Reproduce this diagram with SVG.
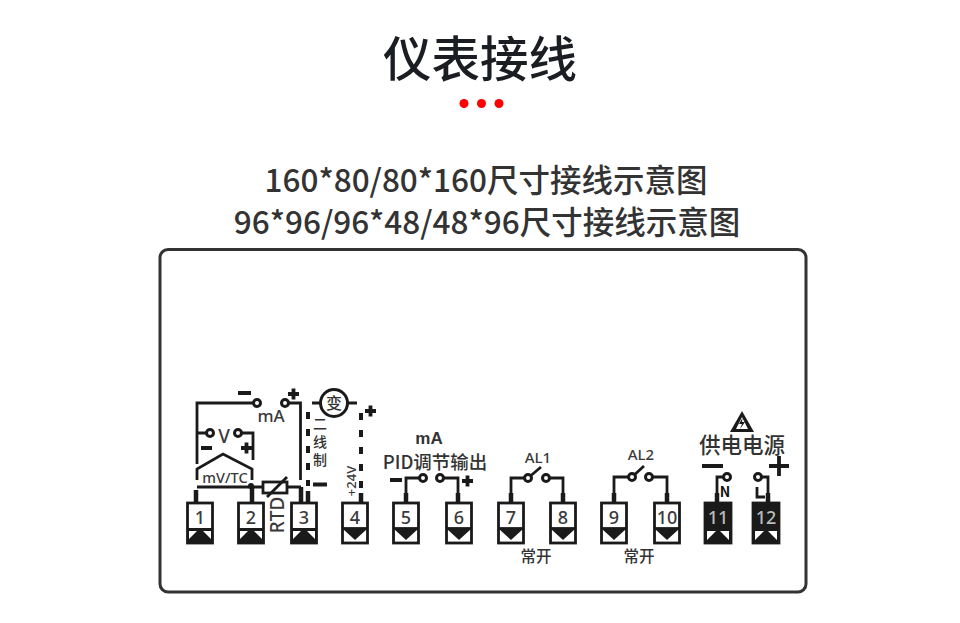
<svg xmlns="http://www.w3.org/2000/svg" width="960" height="623" viewBox="0 0 960 623">
<style>
text{font-family:"Noto Sans CJK SC","Noto Sans",sans-serif;fill:#333;text-anchor:middle}
.t{font-size:48.500px;font-weight:500;fill:#1a1e23}
.s{font-size:31.500px;font-weight:500;fill:#333}
.l{font-size:15.500px;font-weight:500}
.n{font-size:18px;font-family:"Noto Sans",sans-serif;font-weight:500;fill:#3a3a3a}
.w{fill:none;stroke:#1a1a1a;stroke-width:2.800}
.th{fill:none;stroke:#1a1a1a;stroke-width:4.500}
.d{fill:none;stroke:#1a1a1a;stroke-width:4;stroke-dasharray:7 10}
.c{fill:#fff;stroke:#1a1a1a;stroke-width:3}
.sg{fill:none;stroke:#1a1a1a;stroke-width:3.800}
.box{fill:#fff;stroke:#1a1a1a;stroke-width:2.800}
.blk{fill:#1a1a1a;stroke:#1a1a1a;stroke-width:2.800}
</style>
<defs>
<g id="up"><rect class="box" x="-12.500" y="0" width="25" height="40"/><rect x="-12.500" y="25" width="25" height="15" fill="#1a1a1a"/><path d="M-11 28 L-3 28 L-11 36Z M11 28 L3 28 L11 36Z" fill="#fff"/></g>
<g id="down"><rect class="box" x="-12.500" y="0" width="25" height="40"/><path d="M-12.500 25.500H12.500" stroke="#1a1a1a" stroke-width="2.800"/><path d="M-12 26 H12 L0 37Z" fill="#1a1a1a"/></g>
<g id="upb"><rect class="blk" x="-13" y="0" width="26" height="40"/><path d="M-11 28 L-2 28 L-11 37Z M11 28 L2 28 L11 37Z" fill="#fff"/></g>
</defs>
<g id="header">
<text class="t" x="480" y="77">仪表接线</text>
<circle cx="464" cy="103.500" r="4.500" fill="#f00"/><circle cx="481.500" cy="103.500" r="4.500" fill="#f00"/><circle cx="499" cy="103.500" r="4.500" fill="#f00"/>
<text class="s" x="486" y="191.500">160*80/80*160尺寸接线示意图</text>
<text class="s" x="487" y="233.500">96*96/96*48/48*96尺寸接线示意图</text>
</g>
<rect id="panel" x="160" y="249.500" width="646" height="342.500" rx="8" fill="#fff" stroke="#333" stroke-width="3"/>
<g id="connectors">
<path class="w" d="M197 464V403H253M289 403H300.500V480"/>
<path class="sg" d="M238 393H251M288 394H299M293.500 388.500V399.500"/>
<path class="w" d="M207 433H197M240 433H253V460"/>
<path class="sg" d="M201 448H212M241 448H252M246.500 442.500V453.500"/>
<path class="w" d="M197 480V469L223 454L252 469V480"/>
<path class="w" d="M197 487H263M287 487H301"/>
<path class="th" d="M196 490V503M252 486V503M301 487V503M308 491V503M361 493V503"/>
<circle cx="251" cy="486" r="3" fill="#1a1a1a"/>
<path class="w" d="M312 403H320M348 403H357"/>
<path class="d" d="M308 412V486M361 413V494"/>
<path class="sg" d="M313 484.500H327M365 411H376M370.500 405.500V416.500"/>
<path class="w" d="M423 478H406V503M440 478H458V503M528 478H511V503M546 478H563V503M632 477H614V503M649 477H667V503M727 477H717V503M758 477H768V503"/>
<path class="th" d="M406 493V503M458 493V503M511 493V503M563 493V503M614 493V503M667 493V503M717 493V503M768 493V503"/>
<path class="w" d="M528 478L541 467M632 477L644 466M757 487V497H765"/>
<path class="sg" d="M390 480H402M462 481H473M467.500 475.500V486.500M702 466H723M769 466H789M779 456V476"/>
<circle class="c" cx="257" cy="403" r="3.500"/><circle class="c" cx="285" cy="403" r="3.500"/>
<circle class="c" cx="210" cy="433" r="3.500"/><circle class="c" cx="238" cy="433" r="3.500"/>
<circle class="c" cx="423" cy="478" r="3.500"/><circle class="c" cx="440" cy="478" r="3.500"/>
<circle class="c" cx="528" cy="478" r="3.500"/><circle class="c" cx="546" cy="478" r="3.500"/>
<circle class="c" cx="632" cy="477" r="3.500"/><circle class="c" cx="649" cy="477" r="3.500"/>
<circle class="c" cx="727" cy="477" r="3.500"/><circle class="c" cx="758" cy="477" r="3.500"/>
</g>
<g id="rtd"><rect x="263" y="482" width="24" height="11" fill="#fff" stroke="#1a1a1a" stroke-width="2.800"/><path class="w" d="M267 497L287 477"/>
<text class="n" transform="translate(284 515) rotate(-90)" style="font-size:19px">RTD</text></g>
<g id="transmitter"><circle cx="334" cy="403" r="13.500" fill="#fff" stroke="#1a1a1a" stroke-width="3"/><text x="334" y="409" style="font-size:16px;font-weight:500">变</text></g>
<g id="labels">
<text class="n" x="271" y="422" style="font-size:17px">mA</text>
<text class="n" x="224" y="443" style="font-size:19px">V</text>
<text class="n" x="225" y="483" style="font-size:14.500px">mV/TC</text>
<text x="320" y="417" style="font-size:14px;font-weight:500;writing-mode:vertical-rl;letter-spacing:4px;text-anchor:start">二线制</text>
<text class="n" transform="translate(356 481) rotate(-90)" style="font-size:13px">+24V</text>
<text x="429" y="444" style="font-size:17px;font-family:'Liberation Sans',sans-serif;font-weight:700">mA</text>
<text class="l" x="435" y="469" style="font-size:18.500px">PID调节输出</text>
<text class="n" x="538" y="463" style="font-size:15px">AL1</text>
<text class="l" x="536" y="562">常开</text>
<text class="n" x="641" y="460" style="font-size:15px">AL2</text>
<text class="l" x="639" y="562">常开</text>
<text x="742" y="453" style="font-size:21.500px;font-weight:500">供电电源</text>
<path d="M742 411L730 432H754Z" fill="#1a1a1a"/><path d="M742 417L736 429H748Z" fill="#fff"/><path d="M742.500 418L739 424H742L740 429L745 422H742Z" fill="#1a1a1a"/>
<text x="725" y="497" style="font-size:14px;font-weight:700;fill:#111">N</text>
</g>
<g id="t1"><use href="#up" x="200" y="503"/><text class="n" x="200" y="524">1</text></g>
<g id="t2"><use href="#up" x="251" y="503"/><text class="n" x="251" y="524">2</text></g>
<g id="t3"><use href="#up" x="304" y="503"/><text class="n" x="304" y="524">3</text></g>
<g id="t4"><use href="#down" x="355" y="503"/><text class="n" x="355" y="524">4</text></g>
<g id="t5"><use href="#down" x="406" y="503"/><text class="n" x="406" y="524">5</text></g>
<g id="t6"><use href="#down" x="459" y="503"/><text class="n" x="459" y="524">6</text></g>
<g id="t7"><use href="#down" x="511" y="503"/><text class="n" x="511" y="524">7</text></g>
<g id="t8"><use href="#down" x="563" y="503"/><text class="n" x="563" y="524">8</text></g>
<g id="t9"><use href="#down" x="614" y="503"/><text class="n" x="614" y="524">9</text></g>
<g id="t10"><use href="#down" x="667" y="503"/><text class="n" x="667" y="524">10</text></g>
<g id="t11"><use href="#upb" x="718" y="503"/><text class="n" x="718" y="524" style="fill:#bbb">11</text></g>
<g id="t12"><use href="#upb" x="766" y="503"/><text class="n" x="766" y="524" style="fill:#bbb">12</text></g>
</svg>
